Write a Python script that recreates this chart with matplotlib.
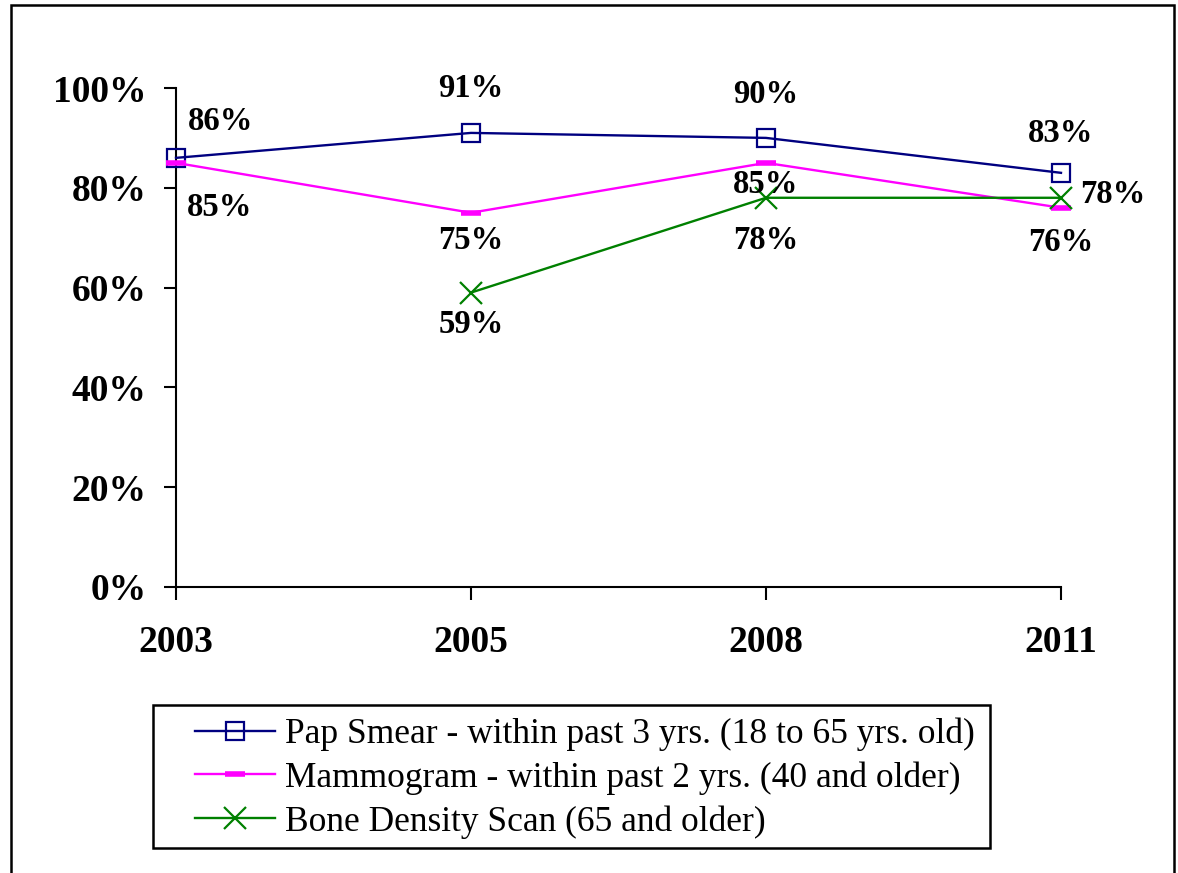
import numpy as np
import matplotlib.pyplot as plt
from matplotlib.patches import Rectangle
from matplotlib.ticker import FuncFormatter

years = ['2003', '2005', '2008', '2011']
pap = [86, 91, 90, 83]
mammo = [85, 75, 85, 76]
bone = [np.nan, 59, 78, 78]

pap_name = 'Pap Smear - within past 3 yrs. (18 to 65 yrs. old)'
mammo_name = 'Mammogram - within past 2 yrs. (40 and older)'
bone_name = 'Bone Density Scan (65 and older)'

# label offsets in pixels (dx, dy) for each point
pap_off = [(45, 36), (0, 44), (0, 43), (0, 39)]
mammo_off = [(44, -45), (0, -28), (0, -22), (0, -35)]
bone_off = [None, (0, -32), (0, -43), (52, 3)]

plt.rcParams['font.family'] = 'Liberation Serif'

fig = plt.figure(figsize=(11.78, 8.73), dpi=100)
ax = fig.add_axes([176 / 1178, 1 - 587 / 873, 885 / 1178, 499 / 873])

x = np.arange(len(years))
ax.plot(x, pap, color='#000080', marker='s', markersize=13, markerfacecolor='none',
        markeredgewidth=1.6, linewidth=1.7, clip_on=False, label=pap_name, zorder=3)
ax.plot(x, mammo, color='#ff00ff', marker='_', markersize=15, markeredgewidth=4,
        linewidth=1.7, clip_on=False, label=mammo_name, zorder=3)
ax.plot(x, bone, color='#008000', marker='x', markersize=16, markeredgewidth=1.6,
        linewidth=1.7, clip_on=False, label=bone_name, zorder=3)

for series, offs in [(pap, pap_off), (mammo, mammo_off), (bone, bone_off)]:
    for i, v in enumerate(series):
        if offs[i] is None or np.isnan(v):
            continue
        ax.annotate(f'{v:.0f}%', (x[i], v), xytext=offs[i], textcoords='offset pixels',
                    ha='center', va='center', fontsize=23.5, fontweight='bold')

ax.set_xlim(0, 3)
ax.set_ylim(0, 100)
ax.set_yticks(range(0, 101, 20))
ax.yaxis.set_major_formatter(FuncFormatter(lambda v, p: f'{v:.0f}%'))
ax.set_xticks(x)
ax.set_xticklabels(years)
ax.tick_params(axis='both', labelsize=27, width=1.5, length=9, direction='out')
for lab in ax.get_xticklabels() + ax.get_yticklabels():
    lab.set_fontweight('bold')
ax.tick_params(axis='y', pad=12)
ax.tick_params(axis='x', pad=18)
ax.spines['top'].set_visible(False)
ax.spines['right'].set_visible(False)
ax.spines['left'].set_linewidth(1.5)
ax.spines['bottom'].set_linewidth(1.5)

leg = fig.legend(loc='center left', bbox_to_anchor=(195 / 1178, 1 - 778 / 873),
                 fontsize=25.5, frameon=False, handlelength=2.26,
                 borderpad=0, borderaxespad=0, labelspacing=0.29, handletextpad=0.28)

# legend box
fig.patches.append(Rectangle((153 / 1178, 1 - 848 / 873), (990 - 153) / 1178, 143 / 873,
                             transform=fig.transFigure, fill=False, edgecolor='black',
                             linewidth=1.8))
# outer frame
fig.patches.append(Rectangle((11 / 1178, -0.1), (1174 - 11) / 1178, 1.1 - 5 / 873,
                             transform=fig.transFigure, fill=False, edgecolor='black',
                             linewidth=1.8))

fig.savefig('out.png', dpi=100)
